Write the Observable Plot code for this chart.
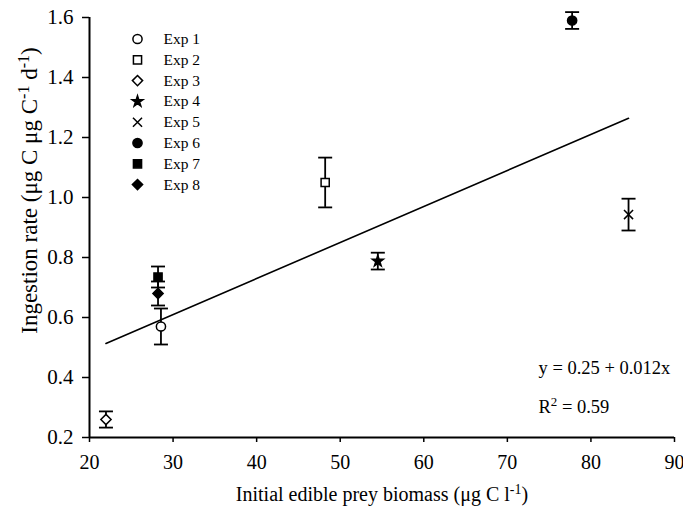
<!DOCTYPE html>
<html>
<head>
<meta charset="utf-8">
<script src="https://cdn.jsdelivr.net/npm/d3@7"></script>
<script src="https://cdn.jsdelivr.net/npm/@observablehq/plot@0.6"></script>
<style>
  html, body { margin: 0; padding: 0; background: #fff; }
</style>
</head>
<body>
<div id="chart"></div>
<script>
// Experiments and their measured ingestion rates (mean ± error)
const experiments = ["Exp 1", "Exp 2", "Exp 3", "Exp 4", "Exp 5", "Exp 6", "Exp 7", "Exp 8"];
const preyBiomass = [28.55, 48.2, 21.97, 54.5, 84.5, 77.75, 28.2, 28.2];
const ingestionRate = [0.57, 1.05, 0.26, 0.788, 0.943, 1.59, 0.735, 0.68];
const ingestionError = [0.06, 0.083, 0.027, 0.028, 0.053, 0.028, 0.035, 0.04];

// Linear regression reported for the pooled experiments
const intercept = 0.25;
const slope = 0.012;
const rSquared = 0.59;

// Axis ticks
const xTicks = [20, 30, 40, 50, 60, 70, 80, 90];
const yTicks = [0.2, 0.4, 0.6, 0.8, 1.0, 1.2, 1.4, 1.6];

// Text labels (^{..} marks a superscript)
const xTitle = "Initial edible prey biomass (μg C l^{-1})";
const yTitle = "Ingestion rate (μg C μg C^{-1} d^{-1})";
const equationLabel = `y = ${intercept} + ${slope}x`;
const r2Label = `R^{2} = ${rSquared}`;

// Marker styles per experiment
const markerSymbols = ["circle", "square", "diamond2", "star", "times", "circle", "square", "diamond2"];
const openMarkers = new Set(["Exp 1", "Exp 2", "Exp 3"]);

const rows = experiments.map((name, i) => ({
  name,
  x: preyBiomass[i],
  y: ingestionRate[i],
  lo: ingestionRate[i] - ingestionError[i],
  hi: ingestionRate[i] + ingestionError[i]
}));

const xs = d3.extent(preyBiomass);
const fitLine = xs.map(x => ({x, y: intercept + slope * x}));

// Horizontal cap used at the ends of error bars
const capSymbol = {draw(ctx) { ctx.moveTo(-7, 0); ctx.lineTo(7, 0); }};

const font = "Liberation Serif, Times New Roman, serif";
const markerFill = d => openMarkers.has(d.name) ? "white" : "black";
const markerSize = d => d.name === "Exp 4" ? 3.4 : d.name === "Exp 5" ? 4.2 : 4.6;

const legendMarks = experiments.flatMap((name, i) => [
  Plot.dot([{name}], {
    frameAnchor: "top-left", dx: 48, dy: 21.5 + i * 20.8,
    symbol: "name", r: markerSize,
    fill: markerFill, stroke: "black", strokeWidth: 1.5
  }),
  Plot.text([name], {
    frameAnchor: "top-left", dx: 74, dy: 21.5 + i * 20.8,
    textAnchor: "start", lineAnchor: "middle", fontSize: 15.5, fill: "black"
  })
]);

const chart = Plot.plot({
  width: 683,
  height: 508,
  marginLeft: 89,
  marginRight: 9,
  marginTop: 17,
  marginBottom: 71,
  style: {fontFamily: font, fontSize: "20px", color: "black", background: "white"},
  x: {domain: [20, 90]},
  y: {domain: [0.2, 1.6]},
  r: {type: "identity"},
  symbol: {domain: experiments, range: markerSymbols},
  marks: [
    Plot.axisX({ticks: xTicks, tickSize: 5, tickPadding: 12, label: null, fontSize: 20, strokeWidth: 1.5}),
    Plot.axisY({ticks: yTicks, tickFormat: d3.format(".1f"), tickSize: 7, tickPadding: 9, label: null, fontSize: 21, strokeWidth: 1.5}),
    Plot.ruleX([20], {stroke: "black", strokeWidth: 2}),
    Plot.ruleY([0.2], {stroke: "black", strokeWidth: 2}),
    // regression line
    Plot.line(fitLine, {x: "x", y: "y", stroke: "black", strokeWidth: 1.6}),
    // error bars with caps
    Plot.ruleX(rows, {x: "x", y1: "lo", y2: "hi", stroke: "black", strokeWidth: 1.8}),
    Plot.dot(rows, {x: "x", y: "lo", symbol: capSymbol, fill: "none", stroke: "black", strokeWidth: 1.8}),
    Plot.dot(rows, {x: "x", y: "hi", symbol: capSymbol, fill: "none", stroke: "black", strokeWidth: 1.8}),
    // experiment means
    Plot.dot(rows, {x: "x", y: "y", symbol: "name", r: markerSize, fill: markerFill, stroke: "black", strokeWidth: 1.5}),
    ...legendMarks,
    // regression annotation
    Plot.text([equationLabel], {frameAnchor: "bottom-left", dx: 449, dy: -69, textAnchor: "start", lineAnchor: "middle", fontSize: 18.5, fill: "black"}),
    Plot.text([r2Label], {frameAnchor: "bottom-left", dx: 449, dy: -30, textAnchor: "start", lineAnchor: "middle", fontSize: 18.5, fill: "black"}),
    // axis titles
    Plot.text([xTitle], {frameAnchor: "bottom", textAnchor: "middle", dx: 0, dy: 57, lineAnchor: "middle", fontSize: 20, fill: "black"}),
    Plot.text([yTitle], {frameAnchor: "left", textAnchor: "middle", rotate: -90, dx: -60, dy: -37, lineAnchor: "middle", fontSize: 23, fill: "black"})
  ]
});

// Turn ^{...} segments into raised tspans
d3.select(chart).selectAll("text").each(function () {
  const s = this.textContent;
  if (!s.includes("^{")) return;
  const parts = s.split(/\^\{([^}]*)\}/);
  const t = d3.select(this).text(null);
  parts.forEach((p, i) => {
    if (!p) return;
    const span = t.append("tspan").text(p);
    if (i % 2) span.attr("baseline-shift", "super").attr("font-size", "70%");
  });
});

document.getElementById("chart").appendChild(chart);
</script>
</body>
</html>
